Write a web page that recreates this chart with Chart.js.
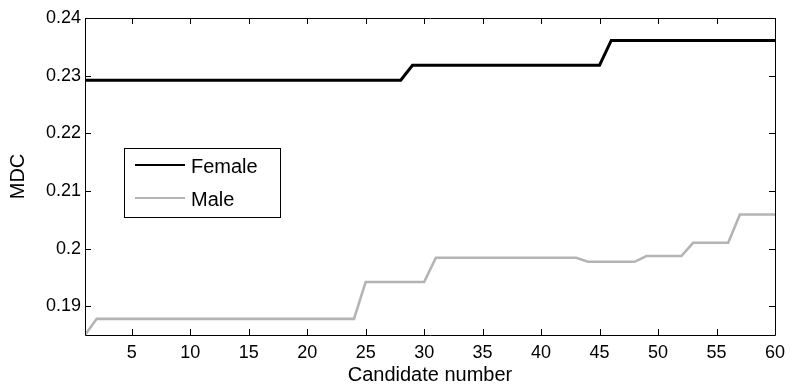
<!DOCTYPE html>
<html>
<head>
<meta charset="utf-8">
<script src="https://cdn.jsdelivr.net/npm/chart.js@4"></script>
<style>
  html, body { margin: 0; padding: 0; background: #fff; }
</style>
</head>
<body>
<canvas id="mdcChart" width="792" height="388"></canvas>
<script>
(function () {
    "use strict";

    const candidates = [
        1, 2, 3, 4, 5, 6, 7, 8, 9, 10,
        11, 12, 13, 14, 15, 16, 17, 18, 19, 20,
        21, 22, 23, 24, 25, 26, 27, 28, 29, 30,
        31, 32, 33, 34, 35, 36, 37, 38, 39, 40,
        41, 42, 43, 44, 45, 46, 47, 48, 49, 50,
        51, 52, 53, 54, 55, 56, 57, 58, 59, 60
    ];

    const femaleMdc = [
        0.2292, 0.2292, 0.2292, 0.2292, 0.2292, 0.2292, 0.2292, 0.2292, 0.2292, 0.2292,
        0.2292, 0.2292, 0.2292, 0.2292, 0.2292, 0.2292, 0.2292, 0.2292, 0.2292, 0.2292,
        0.2292, 0.2292, 0.2292, 0.2292, 0.2292, 0.2292, 0.2292, 0.2292, 0.2318, 0.2318,
        0.2318, 0.2318, 0.2318, 0.2318, 0.2318, 0.2318, 0.2318, 0.2318, 0.2318, 0.2318,
        0.2318, 0.2318, 0.2318, 0.2318, 0.2318, 0.2361, 0.2361, 0.2361, 0.2361, 0.2361,
        0.2361, 0.2361, 0.2361, 0.2361, 0.2361, 0.2361, 0.2361, 0.2361, 0.2361, 0.2361
    ];

    const maleMdc = [
        0.1850, 0.1878, 0.1878, 0.1878, 0.1878, 0.1878, 0.1878, 0.1878, 0.1878, 0.1878,
        0.1878, 0.1878, 0.1878, 0.1878, 0.1878, 0.1878, 0.1878, 0.1878, 0.1878, 0.1878,
        0.1878, 0.1878, 0.1878, 0.1878, 0.1942, 0.1942, 0.1942, 0.1942, 0.1942, 0.1942,
        0.1984, 0.1984, 0.1984, 0.1984, 0.1984, 0.1984, 0.1984, 0.1984, 0.1984, 0.1984,
        0.1984, 0.1984, 0.1984, 0.1977, 0.1977, 0.1977, 0.1977, 0.1977, 0.1987, 0.1987,
        0.1987, 0.1987, 0.2010, 0.2010, 0.2010, 0.2010, 0.2059, 0.2059, 0.2059, 0.2059
    ];

    const xTicks = [5, 10, 15, 20, 25, 30, 35, 40, 45, 50, 55, 60];
    const yTicks = [0.19, 0.2, 0.21, 0.22, 0.23, 0.24];

    const femaleColor = '#000000';
    const maleColor = '#b4b4b4';
    const fontFamily = '"Liberation Sans", Arial, sans-serif';

    function toPoints(values) {
        return candidates.map((c, i) => ({ x: c, y: values[i] }));
    }

    // matlab style box with inward ticks, plus the legend inside the plot
    const boxPlugin = {
        id: 'matlabBox',
        afterDraw(chart) {
            const ctx = chart.ctx;
            const a = chart.chartArea;
            const xs = chart.scales.x;
            const ys = chart.scales.y;
            const tick = 6;

            ctx.save();
            ctx.strokeStyle = '#000';
            ctx.lineWidth = 1;
            ctx.beginPath();
            ctx.rect(Math.round(a.left) + 0.5, Math.round(a.top) + 0.5,
                Math.round(a.right - a.left), Math.round(a.bottom - a.top));
            xTicks.forEach(v => {
                const px = Math.round(xs.getPixelForValue(v)) + 0.5;
                ctx.moveTo(px, a.bottom);
                ctx.lineTo(px, a.bottom - tick);
                ctx.moveTo(px, a.top);
                ctx.lineTo(px, a.top + tick);
            });
            yTicks.forEach(v => {
                const py = Math.round(ys.getPixelForValue(v)) + 0.5;
                ctx.moveTo(a.left, py);
                ctx.lineTo(a.left + tick, py);
                ctx.moveTo(a.right, py);
                ctx.lineTo(a.right - tick, py);
            });
            ctx.stroke();

            // legend
            const lx = 124, ly = 148, lw = 156, lh = 69;
            ctx.fillStyle = '#fff';
            ctx.fillRect(lx, ly, lw, lh);
            ctx.strokeRect(lx + 0.5, ly + 0.5, lw, lh);

            const items = [
                { label: chart.data.datasets[0].label, color: femaleColor, y: 165 },
                { label: chart.data.datasets[1].label, color: maleColor, y: 198 }
            ];
            ctx.font = '20px ' + fontFamily;
            ctx.textBaseline = 'middle';
            items.forEach(it => {
                ctx.strokeStyle = it.color;
                ctx.lineWidth = 2;
                ctx.beginPath();
                ctx.moveTo(135, it.y);
                ctx.lineTo(185, it.y);
                ctx.stroke();
                ctx.fillStyle = '#000';
                ctx.fillText(it.label, 191, it.y + 2);
            });
            ctx.restore();
        }
    };

    const ctx = document.getElementById('mdcChart').getContext('2d');

    new Chart(ctx, {
        type: 'line',
        data: {
            datasets: [{
                label: 'Female',
                data: toPoints(femaleMdc),
                borderColor: femaleColor,
                borderWidth: 3,
                pointRadius: 0,
                tension: 0,
                fill: false
            }, {
                label: 'Male',
                data: toPoints(maleMdc),
                borderColor: maleColor,
                borderWidth: 2.6,
                pointRadius: 0,
                tension: 0,
                fill: false
            }]
        },
        options: {
            responsive: false,
            animation: false,
            layout: {
                padding: { top: 18, right: 12, left: 0, bottom: 0 }
            },
            plugins: {
                legend: { display: false },
                tooltip: { enabled: false }
            },
            scales: {
                x: {
                    type: 'linear',
                    min: 1,
                    max: 60,
                    grid: { display: false, drawTicks: false },
                    border: { display: false },
                    afterBuildTicks: s => { s.ticks = xTicks.map(v => ({ value: v })); },
                    afterFit: s => { s.height = 53; },
                    ticks: {
                        color: '#000',
                        padding: 7,
                        maxRotation: 0,
                        font: { family: fontFamily, size: 18 }
                    },
                    title: {
                        display: true,
                        text: 'Candidate number',
                        color: '#000',
                        padding: { top: 0, bottom: 1 },
                        font: { family: fontFamily, size: 20 }
                    }
                },
                y: {
                    min: 0.185,
                    max: 0.24,
                    grid: { display: false, drawTicks: false },
                    border: { display: false },
                    afterBuildTicks: s => { s.ticks = yTicks.map(v => ({ value: v })); },
                    afterFit: s => { s.width = 85; },
                    ticks: {
                        color: '#000',
                        padding: 4,
                        font: { family: fontFamily, size: 18 },
                        callback: v => String(+v.toFixed(3))
                    },
                    title: {
                        display: true,
                        text: 'MDC',
                        color: '#000',
                        padding: { top: 6, bottom: 0 },
                        font: { family: fontFamily, size: 20 }
                    }
                }
            }
        },
        plugins: [boxPlugin]
    });
})();
</script>
</body>
</html>
